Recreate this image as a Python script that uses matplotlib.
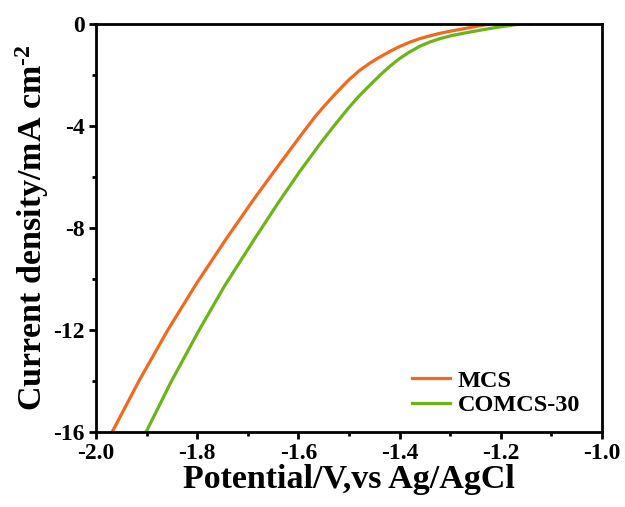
import numpy as np
import matplotlib
matplotlib.use('Agg')
import matplotlib.pyplot as plt
from matplotlib.ticker import MultipleLocator

# LSV curves (potential V vs Ag/AgCl, current density mA cm-2)
mcs_v = [-1.968, -1.914, -1.858, -1.802, -1.742, -1.689, -1.640, -1.597,
         -1.567, -1.551, -1.525, -1.501, -1.480, -1.458, -1.438, -1.419,
         -1.400, -1.380, -1.360, -1.340, -1.320, -1.300, -1.281, -1.264,
         -1.248, -1.232, -1.220]
mcs_j = [-16.0, -13.96, -12.0, -10.2, -8.41, -6.90, -5.57, -4.42,
         -3.64, -3.27, -2.70, -2.21, -1.84, -1.53, -1.29, -1.08,
         -0.89, -0.72, -0.58, -0.47, -0.37, -0.29, -0.22, -0.16,
         -0.10, -0.04, 0.0]

comcs_v = [-1.901, -1.852, -1.796, -1.746, -1.686, -1.640, -1.597, -1.557,
           -1.534, -1.501, -1.480, -1.458, -1.438, -1.419, -1.400, -1.380,
           -1.360, -1.340, -1.320, -1.297, -1.274, -1.255, -1.235, -1.212,
           -1.188, -1.170, -1.156, -1.142]
comcs_j = [-16.0, -14.05, -12.0, -10.28, -8.41, -7.02, -5.78, -4.70,
           -4.11, -3.30, -2.83, -2.39, -2.00, -1.66, -1.36, -1.10,
           -0.88, -0.71, -0.58, -0.46, -0.37, -0.30, -0.23, -0.15,
           -0.08, -0.03, 0.0, 0.0]

plt.rcParams['font.family'] = 'Liberation Serif'
plt.rcParams['font.weight'] = 'bold'
plt.rcParams['mathtext.fontset'] = 'custom'
plt.rcParams['mathtext.rm'] = 'Liberation Serif:bold'
plt.rcParams['mathtext.default'] = 'rm'

fig = plt.figure(figsize=(6.25, 5.07), dpi=100)
ax = fig.add_axes([0.1536, 0.148, 0.8096, 0.805])

ax.plot(mcs_v, mcs_j, color='#F0691E', lw=2.3, label='MCS')
ax.plot(comcs_v, comcs_j, color='#6CB41A', lw=2.3, label='COMCS-30')

ax.set_xlim(-2.0, -1.0)
ax.set_ylim(-16, 0)
ax.xaxis.set_major_locator(MultipleLocator(0.2))
ax.xaxis.set_minor_locator(MultipleLocator(0.1))
ax.yaxis.set_major_locator(MultipleLocator(4))
ax.yaxis.set_minor_locator(MultipleLocator(2))
ax.xaxis.set_major_formatter(plt.FuncFormatter(lambda v, _: '{:.1f}'.format(v)))
ax.yaxis.set_major_formatter(plt.FuncFormatter(lambda v, _: '{:.0f}'.format(v)))

for s in ax.spines.values():
    s.set_linewidth(2)
ax.tick_params(which='major', direction='out', length=5, width=2, labelsize=17, pad=3)
ax.tick_params(which='minor', direction='out', length=3, width=2)
ax.tick_params(top=False, right=False, which='both')

ax.set_xlabel('Potential/V,vs Ag/AgCl', fontsize=24.5, fontweight='bold', labelpad=0)
ax.set_ylabel(r'Current density/mA cm$^{\text{-2}}$', fontsize=24.5, fontweight='bold', labelpad=2)

ax.legend(loc='lower right', frameon=False, fontsize=17.5, handlelength=1.6,
          handletextpad=0.3, labelspacing=0.1, bbox_to_anchor=(1.0, -0.015))

fig.savefig('out.png', dpi=100)
